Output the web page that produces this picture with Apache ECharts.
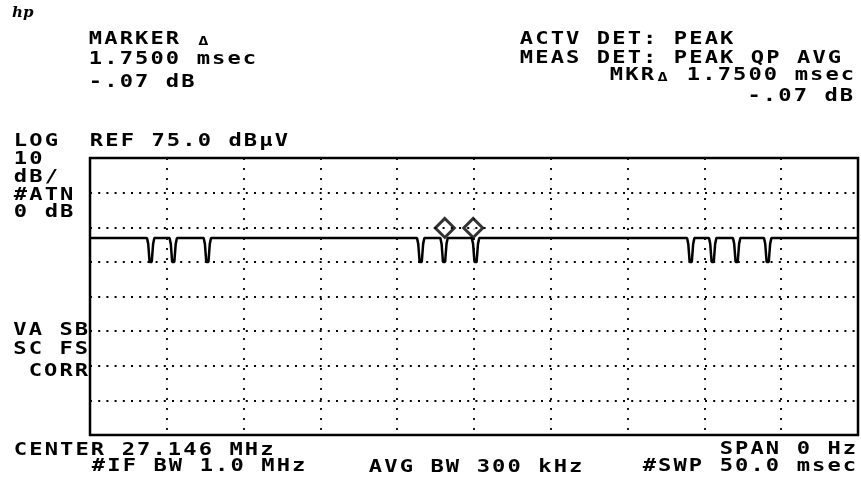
<!DOCTYPE html>
<html>
<head>
<meta charset="utf-8">
<script src="https://cdn.jsdelivr.net/npm/echarts@6/dist/echarts.min.js"></script>
<style>
    html, body { margin: 0; padding: 0; background: #fff; }
    #chart { width: 861px; height: 479px; }
</style>
</head>
<body>
<div id="chart"></div>
<script>
    // sweep time (msec) and level (dBuV)
    const sweepMin = 0;
    const sweepMax = 50;
    const sweepStep = 5;
    const refLevel = 75;
    const bottomLevel = -5;
    const gridLevels = [65, 55, 45, 35, 25, 15, 5];

    const trace = [
        [0, 51.9],
        [3.71, 51.9], [3.79, 50.2], [3.88, 45], [4.02, 45], [4.11, 50.2], [4.19, 51.9],
        [5.18, 51.9], [5.26, 50.2], [5.35, 45], [5.49, 45], [5.58, 50.2], [5.66, 51.9],
        [7.40, 51.9], [7.48, 50.2], [7.57, 45], [7.71, 45], [7.80, 50.2], [7.88, 51.9],
        [21.29, 51.9], [21.37, 50.2], [21.46, 45], [21.60, 45], [21.69, 50.2], [21.77, 51.9],
        [22.81, 51.9], [22.89, 50.2], [22.98, 45], [23.12, 45], [23.21, 50.2], [23.29, 51.9],
        [24.86, 51.9], [24.94, 50.2], [25.03, 45], [25.17, 45], [25.26, 50.2], [25.34, 51.9],
        [38.87, 51.9], [38.95, 50.2], [39.04, 45], [39.18, 45], [39.27, 50.2], [39.35, 51.9],
        [40.30, 51.9], [40.38, 50.2], [40.47, 45], [40.61, 45], [40.70, 50.2], [40.78, 51.9],
        [41.86, 51.9], [41.94, 50.2], [42.03, 45], [42.17, 45], [42.26, 50.2], [42.34, 51.9],
        [43.88, 51.9], [43.96, 50.2], [44.05, 45], [44.19, 45], [44.28, 50.2], [44.36, 51.9],
        [50, 51.9]
    ];

    const markers = [[23.1, 51.9], [24.95, 51.9]];

    // annotation lines: [text, x, y, align]
    const labels = [
        ['MARKER Δ', 90, 40, 'left'],
        ['1.7500 msec', 90, 60, 'left'],
        ['-.07 dB', 90, 83, 'left'],
        ['ACTV DET: PEAK', 521, 40, 'left'],
        ['MEAS DET: PEAK QP AVG', 521, 58.5, 'left'],
        ['MKRΔ 1.7500 msec', 853, 76, 'right'],
        ['-.07 dB', 852, 96.5, 'right'],
        ['LOG', 15, 142, 'left'],
        ['REF 75.0 dBµV', 91, 142, 'left'],
        ['10', 15, 160, 'left'],
        ['dB/', 15, 178, 'left'],
        ['#ATN', 15, 195.5, 'left'],
        ['0 dB', 15, 213, 'left'],
        ['VA SB', 87, 330.5, 'right'],
        ['SC FS', 87, 349.5, 'right'],
        ['CORR', 87, 371.5, 'right'],
        ['CENTER 27.146 MHz', 15, 450.5, 'left'],
        ['#IF BW 1.0 MHz', 93, 466.5, 'left'],
        ['AVG BW 300 kHz', 370, 468, 'left'],
        ['SPAN 0 Hz', 855, 450, 'right'],
        ['#SWP 50.0 msec', 855, 466.5, 'right']
    ];

    const PITCH = 15.4;
    const GLYPH = 11;

    // plotter font: fixed character cells, one text element per char
    function plotterText (str, x, y, align) {
        const chars = Array.from(str);
        const start = align === 'right' ? x - (chars.length - 1) * PITCH - GLYPH : x;
        return chars.map((ch, i) => {
            const small = ch === 'Δ';
            return {
                type: 'text',
                x: start + i * PITCH + GLYPH / 2,
                y: small ? y + 1.5 : y,
                scaleX: 1.3,
                silent: true,
                style: {
                    text: ch,
                    fill: '#000',
                    fontFamily: 'DejaVu Sans Mono',
                    fontWeight: 'bold',
                    fontSize: small ? 13 : 17,
                    align: 'center',
                    verticalAlign: 'middle'
                }
            };
        });
    }

    const graphics = [];
    labels.forEach(l => graphics.push(...plotterText(l[0], l[1], l[2], l[3])));
    graphics.push({
        type: 'text',
        x: 12,
        y: 6,
        silent: true,
        style: {
            text: 'hp',
            fill: '#000',
            fontFamily: 'DejaVu Serif',
            fontStyle: 'italic',
            fontWeight: 'bold',
            fontSize: 15
        }
    });

    const chart = echarts.init(document.getElementById('chart'));
    chart.setOption({
        animation: false,
        backgroundColor: '#fff',
        grid: {
            left: 90,
            top: 158,
            right: 3,
            bottom: 44,
            show: true,
            borderColor: '#000',
            borderWidth: 2.5
        },
        xAxis: {
            type: 'value',
            min: sweepMin,
            max: sweepMax,
            interval: sweepStep,
            axisLine: { show: false },
            axisTick: { show: false },
            axisLabel: { show: false },
            splitLine: {
                show: true,
                lineStyle: { color: '#000', width: 1.8, type: [2, 8] }
            }
        },
        yAxis: {
            type: 'value',
            min: bottomLevel,
            max: refLevel,
            axisLine: { show: false },
            axisTick: { show: false },
            axisLabel: { show: false },
            splitLine: { show: false }
        },
        series: [
            {
                type: 'line',
                data: trace,
                symbol: 'none',
                lineStyle: { color: '#000', width: 2.5 },
                z: 3,
                markLine: {
                    silent: true,
                    symbol: ['none', 'none'],
                    label: { show: false },
                    lineStyle: { color: '#000', width: 1.8, type: [2, 6.2] },
                    data: gridLevels.map(v => ({ yAxis: v }))
                }
            },
            {
                type: 'scatter',
                data: markers,
                symbol: 'diamond',
                symbolSize: 19,
                symbolOffset: [0, -10],
                itemStyle: { color: '#fff', borderColor: '#000', borderWidth: 3 },
                z: 4
            }
        ],
        graphic: graphics
    });
</script>
</body>
</html>
